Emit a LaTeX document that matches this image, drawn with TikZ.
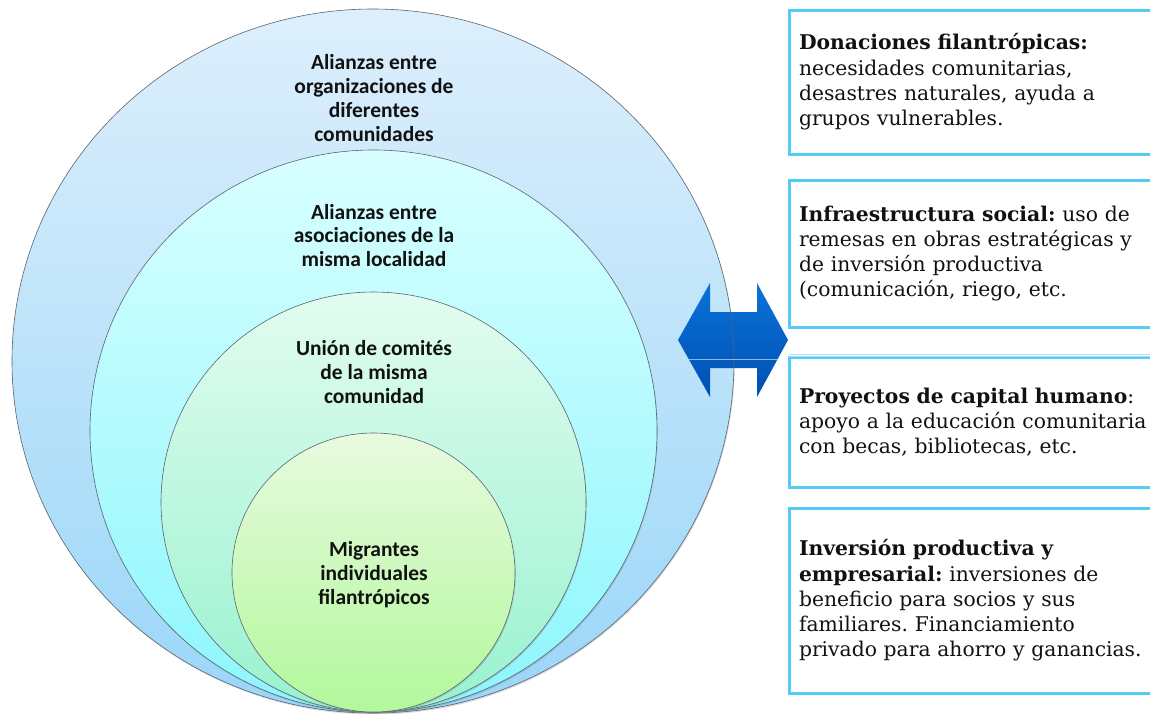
\documentclass[tikz,border=0pt]{standalone}
\usepackage{fontspec}
\setmainfont{Carlito}
\newfontfamily\boxfont{DejaVu Serif}
\usetikzlibrary{shapes.geometric,shadows}
\definecolor{ringA1}{HTML}{DDEFFC}
\definecolor{ringA2}{HTML}{9AD6F8}
\definecolor{ringB1}{HTML}{D9FFFF}
\definecolor{ringB2}{HTML}{8CF6FC}
\definecolor{ringC1}{HTML}{E2FCF0}
\definecolor{ringC2}{HTML}{98F2D0}
\definecolor{ringD1}{HTML}{E8FADF}
\definecolor{ringD2}{HTML}{B2F89C}
\definecolor{ringline}{HTML}{5A6470}
\definecolor{boxline}{HTML}{55CCF8}
\definecolor{boxlinelight}{HTML}{A8E2F6}
\definecolor{arrowtop}{HTML}{0B72D8}
\definecolor{arrowbot}{HTML}{0050B2}
\definecolor{txt}{HTML}{111111}
\tikzset{
  ring/.style={ellipse, inner sep=0pt, outer sep=0pt, draw=ringline, line width=0.6pt,
    drop shadow={opacity=0.30, shadow xshift=0.8pt, shadow yshift=-1.4pt}},
  lbl/.style={font=\fontsize{21.5}{23.7}\selectfont\bfseries, align=center, text=txt, inner sep=0pt},
  infobox/.style={draw=boxline, line width=3pt, fill=white, anchor=west,
    minimum width=380pt, text width=360pt, inner xsep=10pt, inner ysep=0pt, align=left,
    font=\boxfont\fontsize{20.3}{25.3}\selectfont\frenchspacing, text=txt}
}
\begin{document}
\begin{tikzpicture}[x=1pt,y=-1pt]
\useasboundingbox (0,0) rectangle (1150,713);
\clip (0,0) rectangle (1150,713);
\fill[white] (0,0) rectangle (1150,713);
% concentric rings
\node[ring, minimum width=722pt, minimum height=704pt, top color=ringA1, bottom color=ringA2] (r1) at (373,361) {};
\node[ring, minimum width=567pt, minimum height=562pt, top color=ringB1, bottom color=ringB2] (r2) at (373.5,431) {};
\node[ring, minimum width=425pt, minimum height=420pt, top color=ringC1, bottom color=ringC2] (r3) at (373.5,502) {};
\node[ring, minimum width=283pt, minimum height=279pt, top color=ringD1, bottom color=ringD2] (r4) at (373.5,572.5) {};
% ring labels
\node[lbl] (t1) at (374,98) {Alianzas entre\\organizaciones de\\diferentes\\comunidades};
\node[lbl] (t2) at (374,235.5) {Alianzas entre\\asociaciones de la\\misma localidad};
\node[lbl] (t3) at (374,372) {Unión de comités\\de la misma\\comunidad};
\node[lbl] (t4) at (374,574.5) {Migrantes\\individuales\\filantrópicos};
% boxes
\node[infobox, minimum height=144pt] (b1) at (787.5,82) {\textbf{Donaciones filantrópicas:}\\necesidades comunitarias,\\desastres naturales, ayuda a\\grupos vulnerables.};
\node[infobox, minimum height=147pt] (b2) at (787.5,253.5) {\textbf{Infraestructura social:} uso de\\remesas en obras estratégicas y\\de inversión productiva\\(comunicación, riego, etc.};
\node[infobox, minimum height=130pt] (b3) at (787.5,422) {\textbf{Proyectos de capital humano}:\\apoyo a la educación comunitaria\\con becas, bibliotecas, etc.};
\node[infobox, minimum height=185pt] (b4) at (787.5,600.5) {\textbf{Inversión productiva y}\\\textbf{empresarial:} inversiones de\\beneficio para socios y sus\\familiares. Financiamiento\\privado para ahorro y ganancias.};
\draw[white, line width=3.2pt] ([xshift=1.5pt]b3.north west) -- ([xshift=10pt]b3.north east);
\draw[boxlinelight, line width=0.8pt] ([xshift=1.5pt,yshift=1pt]b3.north west) -- ([xshift=10pt,yshift=1pt]b3.north east);
\draw[boxline!60, line width=0.8pt] ([xshift=1.5pt,yshift=-0.8pt]b3.north west) -- ([xshift=10pt,yshift=-0.8pt]b3.north east);
% double arrow
\coordinate (aL) at (678,340);
\coordinate (aR) at (788,340);
\def\arrowpath{(aL) -- (710,283) -- (710,312) -- (757,312) -- (757,283) -- (aR) -- (757,397) -- (757,368) -- (710,368) -- (710,397) -- cycle}
\shade[top color=arrowtop, bottom color=arrowbot] \arrowpath;
\begin{scope}
\clip \arrowpath;
\draw[ringline, line width=0.6pt, opacity=0.8] (r1.center) ellipse [x radius=361, y radius=352];
\draw[white, opacity=0.55, line width=0.8pt] (aL |- 0,359) -- (aR |- 0,359);
\end{scope}
\end{tikzpicture}
\end{document}
